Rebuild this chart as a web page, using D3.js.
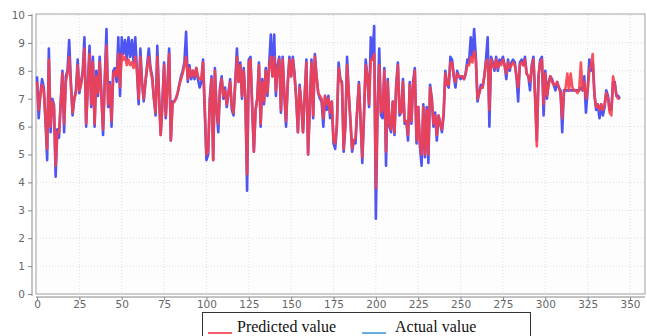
<!DOCTYPE html>
<html>
<head>
<meta charset="utf-8">
<script src="https://cdn.jsdelivr.net/npm/d3@7"></script>
<style>
  html, body { margin: 0; padding: 0; background: #fff; }
  svg { display: block; }
</style>
</head>
<body>
<div id="chart"></div>
<script>
// values (index 0..344)
const actual = [
  7.8, 6.3, 7.2, 7.7, 7.4, 6.2, 4.8, 8.8, 5.8, 7.0,
  6.8, 4.2, 5.9, 5.6, 6.9, 8.0, 5.8, 7.8, 8.0, 9.1,
  7.6, 6.4, 7.0, 7.3, 8.4, 7.2, 7.6, 8.0, 9.2, 6.0,
  7.5, 8.9, 6.7, 8.5, 6.0, 8.0, 7.1, 8.5, 7.2, 5.7,
  7.7, 9.5, 6.7, 7.6, 6.0, 8.0, 8.1, 7.6, 9.2, 7.1,
  9.2, 8.6, 9.1, 8.4, 9.2, 8.5, 9.1, 8.3, 9.2, 8.0,
  6.8, 8.8, 7.6, 6.9, 7.6, 8.2, 8.8, 8.1, 7.8, 7.0,
  6.4, 8.9, 7.2, 5.7, 6.8, 8.3, 6.3, 7.5, 8.8, 5.5,
  6.9, 6.9, 7.0, 7.2, 7.5, 7.8, 8.0, 8.3, 9.4, 7.6,
  8.2, 7.7, 8.0, 7.7, 8.1, 7.7, 7.4, 7.6, 8.4, 6.6,
  4.8, 5.0, 7.0, 7.8, 4.8, 8.1, 6.6, 5.8, 7.4, 7.8,
  7.0, 7.4, 6.7, 7.2, 7.7, 6.6, 6.4, 7.6, 8.8, 7.6,
  8.3, 7.0, 8.1, 7.0, 3.7, 8.4, 8.5, 6.7, 5.1, 6.6,
  7.0, 8.3, 6.0, 7.7, 6.8, 8.1, 7.1, 8.2, 9.3, 7.8,
  9.3, 7.1, 8.2, 8.5, 6.5, 8.5, 7.1, 6.0, 7.6, 8.5,
  7.8, 8.5, 7.9, 7.0, 5.8, 7.5, 6.8, 5.8, 7.1, 8.4,
  5.0, 6.7, 8.4, 6.3, 8.6, 7.8, 7.2, 7.0, 6.9, 6.0,
  7.1, 6.6, 7.1, 6.3, 6.9, 5.4, 5.2, 6.0, 8.3, 7.7,
  7.6, 5.1, 6.0, 8.5, 7.2, 6.2, 5.1, 5.5, 5.4, 6.6,
  7.6, 6.2, 4.7, 6.4, 8.4, 7.8, 6.7, 9.2, 8.4, 9.6,
  2.7, 6.6, 8.8, 6.4, 6.3, 8.1, 4.6, 7.7, 6.0, 5.8,
  6.9, 5.7, 7.5, 8.3, 6.4, 6.5, 7.7, 6.1, 6.2, 5.5,
  7.6, 6.1, 7.6, 8.1, 5.4, 6.7, 5.3, 4.6, 6.8, 4.9,
  6.7, 4.7, 7.5, 7.0, 6.0, 6.5, 5.5, 6.4, 6.1, 5.8,
  6.4, 8.0, 7.5, 7.4, 8.5, 8.4, 7.8, 7.4, 8.0, 7.8,
  7.7, 7.8, 7.7, 7.9, 8.4, 8.3, 9.2, 8.5, 9.5, 8.5,
  6.9, 7.2, 7.5, 7.4, 7.8, 8.4, 9.2, 6.0, 8.5, 8.3,
  8.0, 8.5, 8.0, 8.4, 8.3, 8.5, 8.2, 7.7, 8.4, 8.0,
  8.3, 8.4, 8.3, 7.8, 6.9, 8.3, 8.4, 8.2, 8.5, 7.9,
  7.8, 7.3, 8.2, 8.5, 7.1, 5.5, 7.8, 8.4, 8.5, 6.4,
  8.0, 7.0, 7.6, 7.8, 7.7, 7.5, 7.3, 7.6, 7.4, 7.3,
  5.8, 7.3, 7.3, 7.3, 7.3, 7.3, 7.3, 7.3, 7.3, 7.3,
  7.3, 7.4, 7.3, 7.8, 6.5, 7.3, 8.4, 8.0, 8.3, 7.2,
  6.6, 6.8, 6.3, 6.8, 6.4, 6.7, 7.3, 7.1, 6.6, 6.6,
  7.6, 7.6, 7.1, 7.1, 7.0
];

const predicted = [
  7.6, 6.6, 7.1, 7.5, 7.3, 6.3, 5.2, 8.4, 6.0, 6.9,
  6.7, 4.6, 5.8, 5.8, 6.8, 7.9, 6.1, 7.6, 7.9, 8.5,
  7.5, 6.5, 7.0, 7.2, 8.2, 7.3, 7.5, 7.9, 8.8, 6.1,
  7.4, 8.6, 6.8, 8.3, 6.1, 7.8, 7.2, 8.3, 7.1, 5.9,
  7.6, 8.9, 6.8, 7.5, 6.2, 7.9, 8.0, 7.8, 8.6, 7.4,
  8.6, 8.4, 8.5, 8.2, 8.4, 8.2, 8.3, 8.1, 8.5, 8.0,
  7.0, 8.5, 7.5, 7.0, 7.6, 8.1, 8.5, 8.0, 7.7, 7.0,
  6.5, 8.5, 7.1, 5.7, 6.8, 8.2, 6.4, 7.4, 8.6, 5.5,
  6.8, 6.9, 7.0, 7.2, 7.5, 7.7, 7.9, 8.2, 8.5, 7.7,
  8.1, 7.8, 8.0, 7.8, 8.1, 7.8, 7.7, 7.7, 8.3, 6.7,
  5.0, 5.1, 6.9, 7.7, 4.8, 8.0, 6.6, 6.1, 7.3, 7.7,
  7.1, 7.3, 6.8, 7.2, 7.6, 6.7, 6.5, 7.5, 8.5, 7.6,
  8.2, 7.1, 8.0, 7.0, 4.3, 8.3, 8.4, 6.8, 5.1, 6.6,
  7.0, 8.2, 6.1, 7.6, 6.9, 8.0, 7.2, 8.1, 8.5, 7.8,
  8.5, 7.3, 8.1, 8.4, 6.6, 8.4, 7.2, 6.2, 7.5, 8.4,
  7.8, 8.4, 7.8, 7.0, 5.8, 7.4, 6.8, 5.8, 7.1, 8.3,
  5.0, 6.7, 8.3, 6.4, 8.5, 7.8, 7.2, 7.1, 7.0, 6.3,
  7.1, 6.8, 7.0, 6.5, 6.9, 5.5, 5.4, 6.1, 8.1, 7.7,
  7.5, 5.2, 6.1, 8.2, 7.2, 6.2, 5.2, 5.5, 5.6, 6.6,
  7.5, 6.2, 4.9, 6.4, 8.2, 7.8, 6.8, 8.4, 8.4, 8.6,
  3.8, 6.6, 8.2, 6.5, 6.6, 8.0, 5.1, 7.6, 6.1, 5.9,
  6.9, 5.8, 7.4, 8.2, 6.5, 6.5, 7.6, 6.2, 6.2, 5.7,
  7.5, 6.2, 7.5, 8.0, 5.5, 6.7, 5.4, 5.0, 6.7, 5.0,
  6.6, 5.0, 7.4, 7.0, 6.1, 6.4, 5.7, 6.4, 6.1, 5.9,
  6.5, 7.9, 7.5, 7.5, 8.3, 8.3, 7.8, 7.6, 7.9, 7.8,
  7.8, 7.8, 7.7, 7.9, 8.2, 8.2, 8.5, 8.3, 8.7, 8.4,
  7.0, 7.2, 7.4, 7.4, 7.8, 8.3, 8.4, 6.6, 8.4, 8.2,
  8.1, 8.4, 8.1, 8.3, 8.2, 8.4, 8.2, 7.9, 8.3, 8.1,
  8.2, 8.3, 8.2, 7.8, 7.4, 8.2, 8.3, 8.2, 8.4, 7.9,
  7.8, 7.6, 8.1, 8.4, 7.0, 5.3, 7.8, 8.3, 8.4, 6.8,
  7.9, 7.1, 7.5, 7.8, 7.6, 7.5, 7.5, 7.6, 7.4, 7.2,
  6.3, 7.2, 7.4, 7.9, 7.3, 7.9, 7.4, 7.3, 7.3, 7.2,
  7.3, 8.3, 7.3, 7.6, 7.0, 7.3, 8.0, 8.2, 8.6, 7.1,
  6.7, 6.8, 6.6, 6.8, 6.6, 6.8, 7.2, 7.0, 6.5, 6.4,
  7.8, 7.5, 7.1, 7.0, 7.0
];

const xTicks = [0, 25, 50, 75, 100, 125, 150, 175, 200, 225, 250, 275, 300, 325, 350];
const yTicks = [0, 1, 2, 3, 4, 5, 6, 7, 8, 9, 10];
const legendLabels = ["Predicted value", "Actual value"];

const width = 647, height = 336;
const frame = {left: 36, right: 645, top: 14, bottom: 294};

const svg = d3.select("#chart").append("svg")
  .attr("width", width)
  .attr("height", height);

const x = d3.scaleLinear().domain([0, 350]).range([37, 630]);
const y = d3.scaleLinear().domain([0, 10]).range([294, 15]);

// plot background + frame
svg.append("rect")
  .attr("x", frame.left).attr("y", frame.top)
  .attr("width", frame.right - frame.left)
  .attr("height", frame.bottom - frame.top)
  .attr("fill", "#fdfdfd")
  .attr("stroke", "#a0a0a0");

// dotted grid
const grid = svg.append("g").attr("stroke", "#e0e0e0").attr("stroke-dasharray", "1,2");
grid.selectAll(".gx").data(xTicks.slice(1)).enter().append("line")
  .attr("x1", d => x(d)).attr("x2", d => x(d))
  .attr("y1", frame.top + 1).attr("y2", frame.bottom - 1);
grid.selectAll(".gy").data(yTicks.slice(1)).enter().append("line")
  .attr("x1", frame.left + 1).attr("x2", frame.right - 1)
  .attr("y1", d => y(d)).attr("y2", d => y(d));

// axes
const xAxis = svg.append("g")
  .attr("transform", "translate(0,297)")
  .call(d3.axisBottom(x).tickValues(xTicks).tickSize(3).tickPadding(1));
const yAxis = svg.append("g")
  .attr("transform", "translate(32,0)")
  .call(d3.axisLeft(y).tickValues(yTicks).tickSize(4).tickPadding(3));

[xAxis, yAxis].forEach(ax => {
  ax.select(".domain").attr("stroke", "#888");
  ax.selectAll(".tick line").attr("stroke", "#888");
  ax.selectAll("text")
    .attr("fill", "#666")
    .style("font-family", "'DejaVu Sans', sans-serif")
    .style("font-size", "10.5px");
});
xAxis.select(".domain").attr("d", `M${frame.left},0H${frame.right}`);
yAxis.select(".domain").attr("d", `M0,${frame.top}V${frame.bottom + 2}`);

// series lines
const line = d3.line()
  .x((d, i) => x(i))
  .y(d => y(d));

svg.append("path")
  .datum(actual)
  .attr("fill", "none")
  .attr("stroke", "#4f55f2")
  .attr("stroke-width", 2.6)
  .attr("stroke-linejoin", "round")
  .attr("d", line);

svg.append("path")
  .datum(predicted)
  .attr("fill", "none")
  .attr("stroke", "#f6404e")
  .attr("stroke-opacity", 0.9)
  .attr("stroke-width", 2.6)
  .attr("stroke-linejoin", "round")
  .attr("d", line);

// legend (box runs off the bottom edge like the source)
const legend = svg.append("g");
legend.append("rect")
  .attr("x", 202.5).attr("y", 312.5)
  .attr("width", 328).attr("height", 40)
  .attr("fill", "#fff")
  .attr("stroke", "#333");

const legendColors = ["#f2606e", "#6aaede"];
const legendX = [208, 362];
const legendTextX = [237, 395];
legendLabels.forEach((label, i) => {
  legend.append("line")
    .attr("x1", legendX[i]).attr("x2", legendX[i] + 24)
    .attr("y1", 333).attr("y2", 333)
    .attr("stroke", legendColors[i])
    .attr("stroke-width", 2);
  legend.append("text")
    .attr("x", legendTextX[i])
    .attr("y", 332)
    .style("font-family", "'Liberation Serif', 'Times New Roman', serif")
    .style("font-size", "16px")
    .attr("fill", "#111")
    .text(label);
});
</script>
</body>
</html>
